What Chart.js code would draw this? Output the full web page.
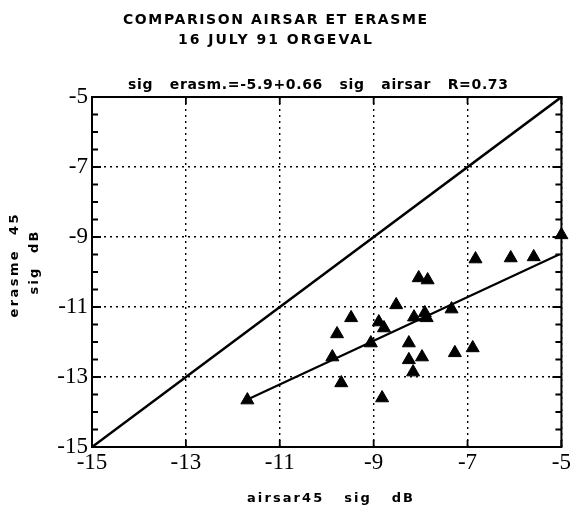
<!DOCTYPE html>
<html>
<head>
<meta charset="utf-8">
<script src="https://cdn.jsdelivr.net/npm/chart.js@4/dist/chart.umd.min.js"></script>
<style>
    html, body { margin: 0; padding: 0; background: #fff; }
    #wrap { width: 573px; height: 510px; }
</style>
</head>
<body>
<div id="wrap"><canvas id="scatterChart"></canvas></div>
<script>
// Comparison AIRSAR / ERASME, 16 July 91, Orgeval

const titleLines = ['COMPARISON AIRSAR ET ERASME', '16 JULY 91 ORGEVAL'];
const fitLabel = 'sig   erasm.=-5.9+0.66   sig   airsar   R=0.73';
const xAxisTitle = 'airsar45   sig   dB';
const yAxisTitle = ['erasme  45', 'sig  dB'];

const tickValues = [-15, -13, -11, -9, -7, -5];

// measured points (dB)
const airsarSig = [-11.69, -9.88, -9.78, -9.69, -9.48, -9.06, -8.89, -8.78, -8.82, -8.52,
    -8.25, -8.25, -8.16, -8.14, -8.04, -7.85, -7.97, -7.91, -7.87, -7.34,
    -7.27, -6.89, -6.83, -6.08, -5.59, -5.0];
const erasmeSig = [-13.66, -12.43, -11.77, -13.17, -11.31, -12.03, -11.43, -11.6, -13.6, -10.94,
    -12.03, -12.51, -12.86, -11.29, -10.17, -10.23, -12.43, -11.17, -11.31, -11.06,
    -12.31, -12.17, -9.63, -9.6, -9.57, -8.94];

// 1:1 line and regression line
const diagX = [-15, -5];
const diagY = [-15, -5];
const fitX = [-11.7, -5.05];
const fitY = [-13.65, -9.5];

function toPoints(xs, ys) {
    return xs.map((x, i) => ({ x: x, y: ys[i] }));
}

// draws text spread out to a given width (the original plot uses wide lettering)
function drawSpaced(ctx, text, cx, cy, width, font) {
    ctx.font = font;
    ctx.letterSpacing = '0px';
    const w = ctx.measureText(text).width;
    const n = text.length;
    const s = n > 1 ? (width - w) / (n - 1) : 0;
    ctx.letterSpacing = s + 'px';
    ctx.textAlign = 'left';
    ctx.textBaseline = 'middle';
    ctx.fillText(text, cx - width / 2, cy);
    ctx.letterSpacing = '0px';
}

const framePlugin = {
    id: 'frame',
    afterDraw(chart) {
        const ctx = chart.ctx;
        const area = chart.chartArea;
        const xs = chart.scales.x;
        const ys = chart.scales.y;

        ctx.save();
        ctx.strokeStyle = '#000';
        ctx.fillStyle = '#000';
        ctx.lineWidth = 2;
        ctx.strokeRect(area.left, area.top, area.right - area.left, area.bottom - area.top);

        // inward ticks on left and right, minor every 0.5
        ctx.lineWidth = 1.8;
        for (let v = -15; v <= -5; v += 0.5) {
            const py = ys.getPixelForValue(v);
            const len = Number.isInteger((v + 15) / 2) ? 9 : 6;
            ctx.beginPath();
            ctx.moveTo(area.left, py);
            ctx.lineTo(area.left + len, py);
            ctx.moveTo(area.right, py);
            ctx.lineTo(area.right - len, py);
            ctx.stroke();
        }
        // inward ticks on bottom and top
        tickValues.forEach(v => {
            const px = xs.getPixelForValue(v);
            ctx.beginPath();
            ctx.moveTo(px, area.bottom);
            ctx.lineTo(px, area.bottom - 7);
            ctx.moveTo(px, area.top);
            ctx.lineTo(px, area.top + 7);
            ctx.stroke();
        });

        const bold = 'bold 14px "DejaVu Sans", Arial, sans-serif';
        const boldSmall = 'bold 13px "DejaVu Sans", Arial, sans-serif';
        drawSpaced(ctx, titleLines[0], 275, 20, 304, bold);
        drawSpaced(ctx, titleLines[1], 275, 40, 194, bold);
        drawSpaced(ctx, fitLabel, 318, 85, 380, bold);
        drawSpaced(ctx, xAxisTitle, 330, 499, 166, boldSmall);

        ctx.save();
        ctx.translate(15, 266);
        ctx.rotate(-Math.PI / 2);
        drawSpaced(ctx, yAxisTitle[0], 0, 0, 103, boldSmall);
        ctx.restore();
        ctx.save();
        ctx.translate(35, 263);
        ctx.rotate(-Math.PI / 2);
        drawSpaced(ctx, yAxisTitle[1], 0, 0, 63, boldSmall);
        ctx.restore();

        ctx.restore();
    }
};

const gridStyle = {
    color: '#000',
    lineWidth: 1.4,
    drawTicks: false
};

const tickFont = { family: '"Liberation Serif", "Times New Roman", serif', size: 23 };

new Chart(document.getElementById('scatterChart').getContext('2d'), {
    type: 'scatter',
    data: {
        datasets: [{
            label: 'points',
            data: toPoints(airsarSig, erasmeSig),
            pointStyle: 'triangle',
            pointRadius: 7.5,
            backgroundColor: '#000',
            borderColor: '#000',
            borderWidth: 1,
            clip: false
        }, {
            type: 'line',
            label: '1:1',
            data: toPoints(diagX, diagY),
            borderColor: '#000',
            borderWidth: 2.5,
            pointRadius: 0,
            fill: false
        }, {
            type: 'line',
            label: 'regression',
            data: toPoints(fitX, fitY),
            borderColor: '#000',
            borderWidth: 2.2,
            pointRadius: 0,
            fill: false
        }]
    },
    options: {
        responsive: true,
        maintainAspectRatio: false,
        animation: false,
        layout: { padding: { top: 97, right: 10, left: 0, bottom: 0 } },
        plugins: {
            legend: { display: false },
            tooltip: { enabled: false }
        },
        scales: {
            x: {
                type: 'linear',
                min: -15,
                max: -5,
                grid: gridStyle,
                border: { display: false, dash: [2, 4] },
                ticks: { stepSize: 2, color: '#000', font: tickFont, padding: 2, maxRotation: 0 },
                afterFit(scale) { scale.height = 63; }
            },
            y: {
                type: 'linear',
                min: -15,
                max: -5,
                grid: gridStyle,
                border: { display: false, dash: [2, 4] },
                ticks: { stepSize: 2, color: '#000', font: tickFont, padding: 4 },
                afterFit(scale) { scale.width = 92; }
            }
        }
    },
    plugins: [framePlugin]
});
</script>
</body>
</html>
